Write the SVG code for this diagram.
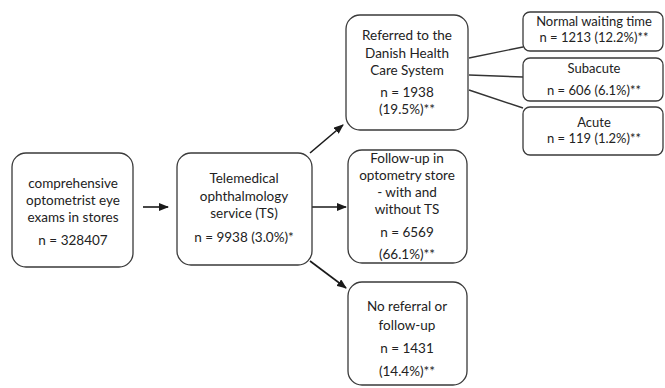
<svg xmlns="http://www.w3.org/2000/svg" width="665" height="388" viewBox="0 0 665 388">
<defs>
<marker id="ah" markerWidth="10" markerHeight="8" refX="9" refY="4" orient="auto" markerUnits="userSpaceOnUse">
<path d="M0,0 L10,4 L0,8 z" fill="#1a1a1a"/>
</marker>
</defs>
<style>
.box{fill:#fff;stroke:#3a3a3a;stroke-width:1.3}
text{font-family:Lato,"Open Sans","Liberation Sans",sans-serif;font-size:13.5px;fill:#222;text-anchor:middle;dominant-baseline:central}
.s{font-size:13px}
.c{stroke:#1a1a1a;stroke-width:1.6;fill:none}
.l{stroke:#333;stroke-width:1.4;fill:none}
</style>
<rect width="665" height="388" fill="#fff"/>
<g id="connectors">
<line class="c" x1="143" y1="207" x2="168" y2="207" marker-end="url(#ah)"/>
<line class="c" x1="310" y1="153" x2="343" y2="125" marker-end="url(#ah)"/>
<line class="c" x1="310" y1="207" x2="346" y2="207" marker-end="url(#ah)"/>
<line class="c" x1="310" y1="261" x2="346" y2="288" marker-end="url(#ah)"/>
<line class="l" x1="469" y1="58" x2="523" y2="47"/>
<line class="l" x1="469" y1="75" x2="523" y2="77"/>
<line class="l" x1="469" y1="90" x2="523" y2="108"/>
</g>
<g id="n1">
<rect class="box" x="12" y="153" width="121" height="114" rx="14"/>
<text x="73" y="183">comprehensive</text>
<text x="73" y="200">optometrist eye</text>
<text x="73" y="217">exams in stores</text>
<text x="73" y="240">n = 328407</text>
</g>
<g id="n2">
<rect class="box" x="177" y="153" width="135" height="112" rx="14"/>
<text x="244" y="178">Telemedical</text>
<text x="244" y="196">ophthalmology</text>
<text x="244" y="213">service (TS)</text>
<text x="244" y="237">n = 9938 (3.0%)*</text>
</g>
<g id="n3">
<rect class="box" x="346" y="15" width="122" height="115" rx="14"/>
<text x="407" y="35">Referred to the</text>
<text x="407" y="53">Danish Health</text>
<text x="407" y="70">Care System</text>
<text x="407" y="92">n = 1938</text>
<text x="407" y="109">(19.5%)**</text>
</g>
<g id="n4">
<rect class="box" x="523" y="12" width="140" height="39" rx="7"/>
<text class="s" x="594" y="21">Normal waiting time</text>
<text class="s" x="594" y="37">n = 1213 (12.2%)**</text>
</g>
<g id="n5">
<rect class="box" x="523" y="58" width="140" height="43" rx="7"/>
<text class="s" x="594" y="68">Subacute</text>
<text class="s" x="594" y="90">n = 606 (6.1%)**</text>
</g>
<g id="n6">
<rect class="box" x="523" y="107" width="140" height="48" rx="7"/>
<text class="s" x="594" y="122">Acute</text>
<text class="s" x="594" y="138">n = 119 (1.2%)**</text>
</g>
<g id="n7">
<rect class="box" x="348" y="150" width="119" height="113" rx="14"/>
<text x="407" y="158">Follow-up in</text>
<text x="407" y="175">optometry store</text>
<text x="407" y="192">- with and</text>
<text x="407" y="209">without TS</text>
<text x="407" y="232">n = 6569</text>
<text x="407" y="254">(66.1%)**</text>
</g>
<g id="n8">
<rect class="box" x="348" y="282" width="119" height="103" rx="14"/>
<text x="407" y="306">No referral or</text>
<text x="407" y="325">follow-up</text>
<text x="407" y="348">n = 1431</text>
<text x="407" y="371">(14.4%)**</text>
</g>
</svg>
